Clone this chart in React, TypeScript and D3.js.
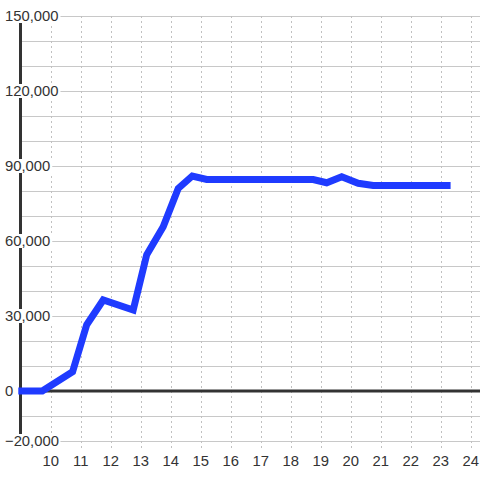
import React from "react";
import * as d3 from "d3";

const hours = [8.92, 9.72, 10.73, 11.2, 11.75, 12.75, 13.2, 13.75, 14.25, 14.72, 15.2, 18.75, 19.2, 19.7, 20.25, 20.75, 23.33];
const values = [0, 0, 7700, 26500, 36400, 32400, 54500, 65700, 81000, 86000, 84600, 84600, 83300, 85700, 83100, 82200, 82200];
const yLabelTicks = [150000, 120000, 90000, 60000, 30000, 0, -20000];
const yGridTicks = d3.range(-20000, 150001, 10000);
const xTicks = d3.range(10, 25, 1);

const W = 480;
const H = 480;

export default function App() {
  const x = d3.scaleLinear().domain([9, 24]).range([20.7, 470.7]);
  const y = d3.scaleLinear().domain([-20000, 150000]).range([441, 16]);
  const fmt = d3.format(",");
  const line = d3
    .line<number>()
    .x((_, i) => x(hours[i]))
    .y((d) => y(d))(values) as string;
  const font = "'Liberation Sans', Arial, sans-serif";
  const fs = 14.8;
  const labelX = 5;
  const approxWidth = (s: string) => {
    let w = 0;
    for (const c of s) w += (c === "," ? 0.278 : c === "-" ? 0.333 : 0.556) * fs;
    return w;
  };
  return (
    <svg
      width={W}
      height={H}
      style={{ position: "absolute", left: 0, top: 0, display: "block", background: "#fff" }}
    >
      <rect x={0} y={0} width={W} height={H} fill="#fff" />
      {yGridTicks.map((t) => (
        <line key={"h" + t} x1={x(9)} x2={W} y1={y(t) + 0.5} y2={y(t) + 0.5} stroke="#c8c8c8" strokeWidth={1} />
      ))}
      {xTicks.map((t) => (
        <line
          key={"v" + t}
          x1={Math.round(x(t)) + 0.5}
          x2={Math.round(x(t)) + 0.5}
          y1={y(150000)}
          y2={y(-20000) + 7}
          stroke="#c0c0c0"
          strokeWidth={1}
          strokeDasharray="2,3"
        />
      ))}
      <line x1={x(9)} x2={W} y1={y(0)} y2={y(0)} stroke="#333" strokeWidth={3} />
      <line x1={x(9) - 0.2} x2={x(9) - 0.2} y1={y(150000)} y2={y(-20000)} stroke="#333" strokeWidth={3} />
      {yLabelTicks.map((t) => {
        const s = fmt(t);
        const w = approxWidth(s);
        return (
          <g key={"yl" + t}>
            <rect x={labelX - 2} y={y(t) - 7} width={w + 4} height={14} fill="#fff" />
            <text x={labelX} y={y(t) + 5.2} fontFamily={font} fontSize={fs} fill="#333">
              {s}
            </text>
          </g>
        );
      })}
      {xTicks.map((t) => (
        <text key={"xl" + t} x={x(t)} y={466} textAnchor="middle" fontFamily={font} fontSize={fs} fill="#333">
          {t}
        </text>
      ))}
      <path d={line} fill="none" stroke="#1f3bff" strokeWidth={7} strokeLinejoin="miter" strokeLinecap="butt" />
    </svg>
  );
}
